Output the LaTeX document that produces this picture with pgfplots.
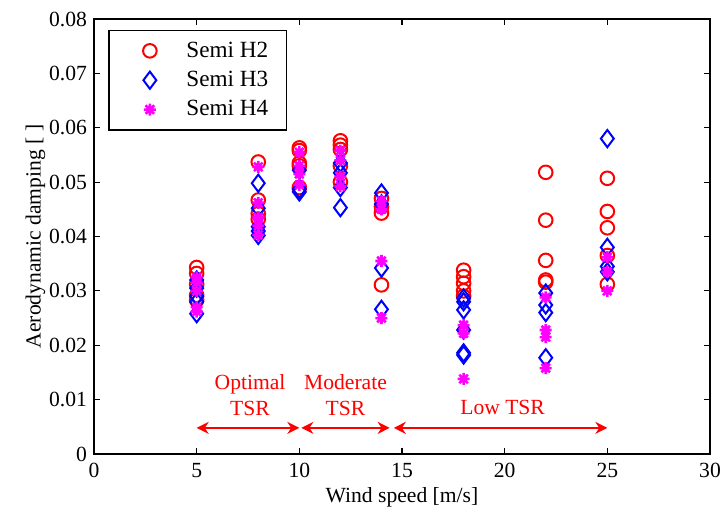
\documentclass[border=0pt]{standalone}
\usepackage{fontspec}
\setmainfont{Liberation Serif}
\usepackage{pgfplots}
\pgfplotsset{compat=1.18}
\usetikzlibrary{arrows.meta,plotmarks}
\definecolor{mred}{RGB}{255,0,0}
\definecolor{mblue}{RGB}{0,0,255}
\definecolor{mmag}{RGB}{255,0,255}
\pgfdeclareplotmark{mstar}{%
  \pgfpathmoveto{\pgfqpoint{-\pgfplotmarksize}{0pt}}\pgfpathlineto{\pgfqpoint{\pgfplotmarksize}{0pt}}%
  \pgfpathmoveto{\pgfqpoint{0pt}{-\pgfplotmarksize}}\pgfpathlineto{\pgfqpoint{0pt}{\pgfplotmarksize}}%
  \pgfpathmoveto{\pgfqpoint{-0.707\pgfplotmarksize}{-0.707\pgfplotmarksize}}\pgfpathlineto{\pgfqpoint{0.707\pgfplotmarksize}{0.707\pgfplotmarksize}}%
  \pgfpathmoveto{\pgfqpoint{-0.707\pgfplotmarksize}{0.707\pgfplotmarksize}}\pgfpathlineto{\pgfqpoint{0.707\pgfplotmarksize}{-0.707\pgfplotmarksize}}%
  \pgfusepathqstroke}
\newcommand{\fs}{\fontsize{10.8}{12.8}\selectfont}
\newcommand{\fl}{\fontsize{11.6}{13}\selectfont}
\begin{document}
\begin{tikzpicture}
\begin{axis}[
  width=308pt, height=217.5pt, scale only axis,
  xmin=0, xmax=30, ymin=0, ymax=0.08,
  xtick={0,5,...,30},
  ytick={0,0.01,0.02,0.03,0.04,0.05,0.06,0.07,0.08},
  yticklabels={0,0.01,0.02,0.03,0.04,0.05,0.06,0.07,0.08},
  scaled y ticks=false,
  /pgf/number format/assume math mode=true,
  tick align=inside, tick pos=both,
  major tick length=3pt,
  axis line style={line width=0.6pt},
  every tick/.style={black, line width=0.6pt},
  xlabel={Wind speed [m/s]},
  ylabel={Aerodynamic damping [ ]},
  label style={font=\fs},
  xlabel style={yshift=2pt},
  ylabel style={yshift=-5pt},
  tick label style={font=\fs},
  xticklabel style={yshift=-1pt},
  legend style={at={(0.023,0.975)}, anchor=north west, draw=black, line width=0.8pt,
    font=\fl, row sep=1.5pt, inner xsep=7pt, inner ysep=3.5pt,
    legend cell align=left},
  legend image code/.code={\path (0,0) (1.0cm,0); \draw[#1] plot coordinates {(0.45cm,0cm)};},
]
\coordinate (sw) at (rel axis cs:0,0);
\coordinate (ne) at (rel axis cs:1,1);
\addplot[only marks, mark=o, mark size=3.4pt, mred, line width=1pt] coordinates {
(5,0.0343) (5,0.0332) (5,0.0312) (5,0.0292) (5,0.0283)
(8,0.0537) (8,0.0467) (8,0.0442) (8,0.0432)
(10,0.0563) (10,0.0558) (10,0.0535) (10,0.0530) (10,0.0490)
(12,0.0576) (12,0.0568) (12,0.0560) (12,0.0530) (12,0.0500)
(14,0.0470) (14,0.0455) (14,0.0443) (14,0.0311)
(18,0.0338) (18,0.0326) (18,0.0314) (18,0.0300) (18,0.0290)
(22,0.0518) (22,0.0430) (22,0.0356) (22,0.0320) (22,0.0316)
(25,0.0507) (25,0.0446) (25,0.0416) (25,0.0365) (25,0.0312)
};
\addlegendentry{Semi H2}
\addplot[only marks, mark=diamond, mark size=4.3pt, mblue, line width=1pt] coordinates {
(5,0.0320) (5,0.0305) (5,0.0290) (5,0.0280) (5,0.0258)
(8,0.0498) (8,0.0452) (8,0.0418) (8,0.0410) (8,0.0402)
(10,0.0522) (10,0.0487) (10,0.0482)
(12,0.0535) (12,0.0517) (12,0.0490) (12,0.0453)
(14,0.0480) (14,0.0460) (14,0.0342) (14,0.0266)
(18,0.0287) (18,0.0280) (18,0.0265) (18,0.0228) (18,0.0186) (18,0.0182)
(22,0.0296) (22,0.0274) (22,0.0260) (22,0.0177)
(25,0.0580) (25,0.0380) (25,0.0345) (25,0.0335)
};
\addlegendentry{Semi H3}
\addplot[only marks, mark=mstar, mark size=3pt, mmag, line width=1.3pt] coordinates {
(5,0.0325) (5,0.0315) (5,0.0300) (5,0.0270) (5,0.0262)
(8,0.0528) (8,0.0462) (8,0.0435) (8,0.0420) (8,0.0403)
(10,0.0555) (10,0.0530) (10,0.0515) (10,0.0495)
(12,0.0558) (12,0.0540) (12,0.0510) (12,0.0492)
(14,0.0465) (14,0.0450) (14,0.0355) (14,0.0250)
(18,0.0237) (18,0.0222) (18,0.0138)
(22,0.0288) (22,0.0228) (22,0.0215) (22,0.0158)
(25,0.0362) (25,0.0335) (25,0.0300)
};
\addlegendentry{Semi H4}
\draw[mred, line width=1pt, {Stealth[length=6pt,width=6pt]}-{Stealth[length=6pt,width=6pt]}] (axis cs:5,0.0048) -- (axis cs:10,0.0048);
\draw[mred, line width=1pt, {Stealth[length=6pt,width=6pt]}-{Stealth[length=6pt,width=6pt]}] (axis cs:10.1,0.0048) -- (axis cs:14.4,0.0048);
\draw[mred, line width=1pt, {Stealth[length=6pt,width=6pt]}-{Stealth[length=6pt,width=6pt]}] (axis cs:14.6,0.0048) -- (axis cs:25,0.0048);
\node[mred, align=center, font=\fs] at (axis cs:7.6,0.0108) {Optimal\\TSR};
\node[mred, align=center, font=\fs] at (axis cs:12.25,0.0108) {Moderate\\TSR};
\node[mred, font=\fs] at (axis cs:19.9,0.0085) {Low TSR};
\end{axis}
\pgfresetboundingbox
\path ([shift={(-47pt,-30.5pt)}]sw) rectangle ([shift={(6pt,9.5pt)}]ne);
\end{tikzpicture}
\end{document}
